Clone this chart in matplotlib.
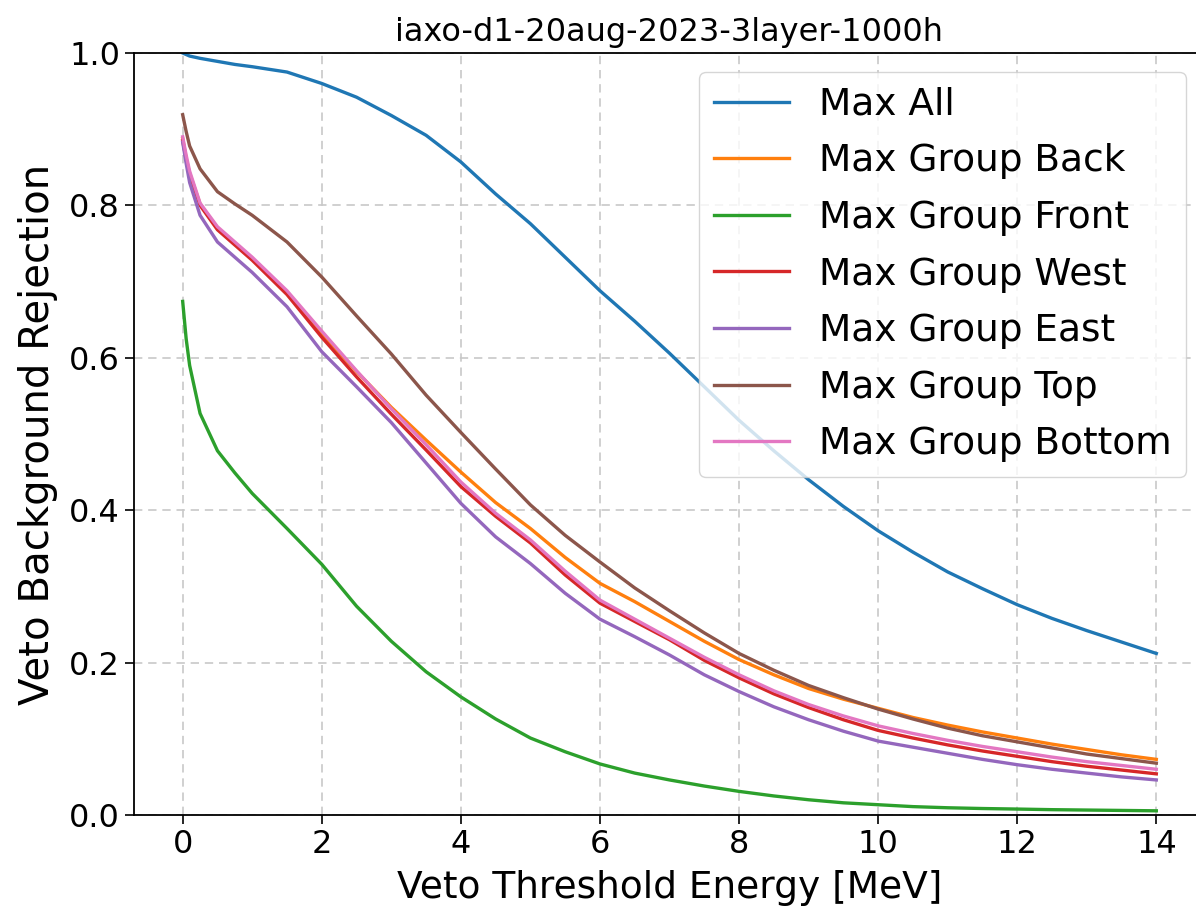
import numpy as np
import matplotlib
matplotlib.use('Agg')
import matplotlib.pyplot as plt

# threshold energies (MeV) at which the curves were read
energy = [0, 0.05, 0.1, 0.25, 0.5, 0.75, 1, 1.5, 2, 2.5, 3, 3.5, 4, 4.5, 5, 5.5, 6, 6.5,
          7, 7.5, 8, 8.5, 9, 9.5, 10, 10.5, 11, 11.5, 12, 12.5, 13, 13.5, 14]

max_all = [1.0, 0.998, 0.996, 0.993, 0.989, 0.985, 0.982, 0.975, 0.960, 0.942, 0.918, 0.892,
           0.857, 0.815, 0.776, 0.732, 0.688, 0.648, 0.606, 0.562, 0.518, 0.478, 0.440,
           0.405, 0.373, 0.345, 0.319, 0.297, 0.276, 0.258, 0.242, 0.227, 0.212]
group_back = [0.888, 0.862, 0.842, 0.802, 0.770, 0.750, 0.730, 0.686, 0.632, 0.582, 0.535, 0.492,
              0.450, 0.410, 0.376, 0.338, 0.304, 0.280, 0.254, 0.228, 0.204, 0.184, 0.166,
              0.152, 0.140, 0.128, 0.118, 0.109, 0.101, 0.093, 0.086, 0.079, 0.073]
group_front = [0.674, 0.625, 0.590, 0.527, 0.478, 0.449, 0.422, 0.376, 0.329, 0.274, 0.228, 0.188,
               0.155, 0.126, 0.101, 0.083, 0.067, 0.055, 0.046, 0.038, 0.031, 0.025, 0.020,
               0.016, 0.0135, 0.011, 0.0095, 0.0085, 0.0078, 0.007, 0.0065, 0.006, 0.0055]
group_west = [0.885, 0.860, 0.840, 0.800, 0.768, 0.748, 0.728, 0.683, 0.627, 0.575, 0.526, 0.479,
              0.431, 0.392, 0.357, 0.315, 0.278, 0.254, 0.230, 0.203, 0.180, 0.159, 0.141,
              0.125, 0.111, 0.101, 0.092, 0.084, 0.077, 0.070, 0.064, 0.059, 0.054]
group_east = [0.883, 0.855, 0.830, 0.787, 0.752, 0.732, 0.712, 0.667, 0.608, 0.562, 0.515, 0.462,
              0.409, 0.365, 0.330, 0.291, 0.257, 0.234, 0.210, 0.184, 0.162, 0.142, 0.125,
              0.110, 0.097, 0.089, 0.081, 0.073, 0.066, 0.060, 0.055, 0.050, 0.046]
group_top = [0.919, 0.897, 0.878, 0.848, 0.818, 0.802, 0.787, 0.752, 0.706, 0.655, 0.605, 0.551,
             0.502, 0.454, 0.407, 0.367, 0.332, 0.298, 0.268, 0.239, 0.212, 0.190, 0.170,
             0.154, 0.139, 0.126, 0.114, 0.104, 0.096, 0.088, 0.080, 0.074, 0.068]
group_bottom = [0.890, 0.866, 0.845, 0.803, 0.772, 0.752, 0.732, 0.688, 0.635, 0.583, 0.533, 0.486,
                0.437, 0.396, 0.361, 0.320, 0.282, 0.257, 0.232, 0.207, 0.184, 0.163, 0.145,
                0.130, 0.117, 0.107, 0.098, 0.090, 0.083, 0.076, 0.070, 0.065, 0.060]

labels = ['Max All', 'Max Group Back', 'Max Group Front', 'Max Group West',
          'Max Group East', 'Max Group Top', 'Max Group Bottom']
series = [max_all, group_back, group_front, group_west, group_east, group_top, group_bottom]

fig = plt.figure(figsize=(11.96, 9.13), dpi=100)
# the reference is cropped on the right, so the axes run past the figure edge
ax = fig.add_axes([134 / 1196, 98 / 913, 1071 / 1196, 762 / 913])

for label, values in zip(labels, series):
    ax.plot(energy, values, label=label, linewidth=2.4)

ax.set_ylim(0, 1.0)
ax.set_xticks(range(0, 15, 2))
ax.grid(True, linestyle=(0, (5, 3.5)), linewidth=1.2, color='#c8c8c8')
ax.set_axisbelow(True)

ax.set_title('iaxo-d1-20aug-2023-3layer-1000h', fontsize=23, pad=9)
ax.set_xlabel('Veto Threshold Energy [MeV]', fontsize=27, labelpad=7)
ax.set_ylabel('Veto Background Rejection', fontsize=29, labelpad=8)
ax.tick_params(labelsize=23, length=6.5, width=1.2)
for spine in ax.spines.values():
    spine.set_linewidth(1.3)

ax.legend(fontsize=27, loc='upper right', handlelength=2.0, labelspacing=0.55)

fig.savefig('out.png', dpi=100)
